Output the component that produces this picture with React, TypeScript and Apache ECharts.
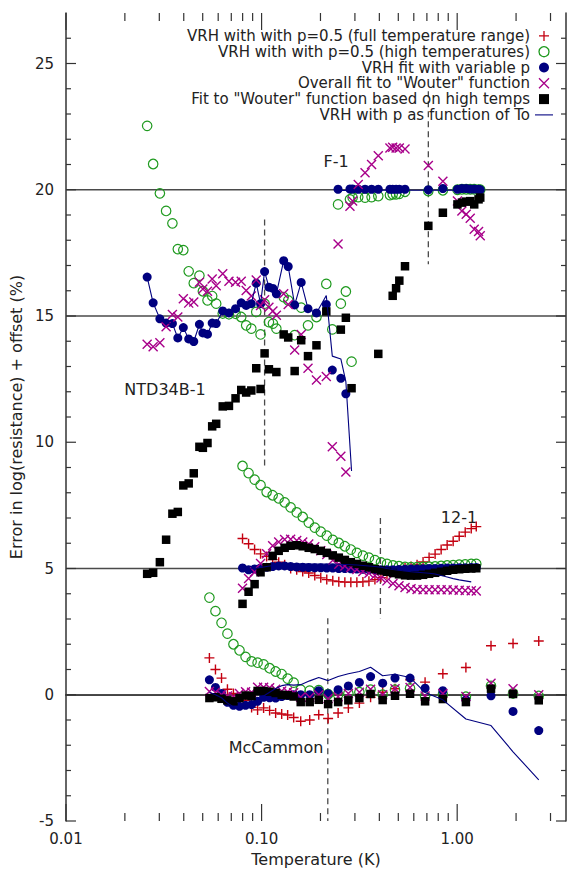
import React, { useEffect, useRef } from "react";
import * as echarts from "echarts";

const NAMES = [
  "VRH with with p=0.5 (full temperature range)",
  "VRH with with p=0.5 (high temperatures)",
  "VRH fit with variable p",
  'Overall fit to "Wouter" function',
  'Fit to "Wouter" function based on high temps',
  "VRH with p as function of To",
];

// ---- NTD34B-1 (offset 15) ----
const ntdT = [0.0260, 0.0279, 0.0302, 0.0325, 0.0350, 0.0373, 0.0398, 0.0424, 0.0450, 0.0481, 0.0501, 0.0529, 0.0559, 0.0586, 0.0633, 0.0681, 0.0736, 0.0787, 0.0834, 0.0886, 0.0939, 0.0988, 0.1036, 0.1090, 0.1143, 0.1190, 0.1297, 0.1368, 0.1476, 0.1594, 0.1727, 0.1908, 0.2142, 0.2299, 0.2542, 0.2697, 0.2884];
const ntdGreen = [22.53, 21.02, 19.86, 19.16, 18.67, 17.65, 17.61, 16.77, 16.30, 16.60, 15.98, 15.62, 15.79, 15.49, 15.10, 15.07, 15.09, 14.96, 14.63, 14.50, 15.16, 14.27, 15.49, 14.76, 14.70, 14.50, 15.75, 15.62, 14.24, 15.33, 14.63, 14.96, 16.27, 14.47, 15.49, 15.97, 13.19];
const ntdNavy = [16.54, 15.52, 14.89, 14.72, 14.70, 14.13, 14.54, 14.09, 13.99, 14.67, 14.33, 14.28, 14.72, 14.70, 15.20, 15.12, 15.29, 15.52, 15.42, 15.49, 16.30, 15.49, 16.76, 16.14, 16.09, 15.88, 17.19, 16.96, 15.44, 16.33, 15.29, 15.12, 15.46, 12.86, 12.53, 11.92, null];
const ntdMagenta = [13.88, 13.78, 13.94, 14.57, 15.06, 14.96, 15.68, 15.51, 15.55, 16.34, 16.07, 15.98, 16.47, 16.20, 16.67, 16.38, 16.34, 16.38, 16.01, 15.79, 16.43, 15.42, 15.64, 15.35, 15.20, 15.03, 15.88, 15.46, 13.65, 14.27, 12.93, 12.47, 12.60, 9.82, 9.45, 8.82, null];
const ntdBlack = [4.79, 4.83, 5.25, 6.14, 7.17, 7.24, 8.29, 8.37, 8.77, 9.82, 9.78, 9.97, 10.63, 10.73, 11.42, 11.44, 11.74, 12.07, 11.97, 12.05, 12.93, 12.11, 13.52, 12.89, null, 12.78, 14.27, 14.15, 12.82, 14.04, 13.41, 13.84, 15.18, null, 14.46, 14.93, 12.14];
const ntdLine = [16.54, 15.52, 14.89, 14.72, 14.70, 14.13, 14.54, 14.09, 13.99, 14.67, 14.33, 14.28, 14.72, 14.70, 15.20, 15.12, 15.29, 15.52, 15.42, 15.49, 16.30, 15.49, 16.76, 16.14, 16.09, 15.88, 17.19, 16.96, 15.44, 16.33, 15.29, 15.12, 15.81, 13.41, 13.30, 12.40, 8.86];

// ---- F-1 (offset 20) ----
const f1T = [0.246, 0.283, 0.292, 0.312, 0.338, 0.365, 0.395, 0.453, 0.468, 0.487, 0.506, 0.541, 0.712, 0.845, 1.003, 1.057, 1.112, 1.166, 1.222, 1.286, 1.312];
const f1Green = [19.42, 19.62, 19.69, 19.71, 19.69, 19.71, 19.75, 19.79, 19.82, 19.82, 19.84, 19.92, 19.95, 19.98, 20.0, 20.02, 20.02, 20.02, 20.02, 20.0, 20.0];
const f1Navy = [20.02, 20.03, 20.03, 20.02, 20.02, 20.02, 20.02, 20.02, 20.02, 20.02, 20.02, 20.02, 20.0, 20.05, 20.02, 20.05, 20.05, 20.03, 20.03, 20.02, 20.0];
const f1Magenta = [17.85, 19.35, 19.55, 20.21, 20.67, 21.0, 21.35, 21.65, 21.68, 21.65, 21.65, 21.61, 20.96, 20.34, 19.55, 19.16, 19.03, 18.87, 18.44, 18.35, 18.18];
const f1Black = [null, null, null, null, null, null, 13.5, null, 15.8, 16.1, 16.40, 16.97, 18.57, 19.09, 19.42, 19.49, 19.53, 19.55, 19.42, 19.62, 19.69];
const f1Line = [19.97, 19.97, 19.97, 19.97, 19.98, 19.98, 19.98, 19.98, 19.98, 19.98, 19.98, 19.98, 19.98, 19.98, 19.98, 19.98, 19.98, 19.98, 19.98, 19.98, 19.98];

// ---- 12-1 (offset 5) ----
const t121 = [0.0799, 0.0858, 0.0921, 0.0988, 0.1061, 0.1139, 0.1223, 0.1312, 0.1408, 0.1512, 0.1623, 0.1742, 0.1870, 0.2007, 0.2154, 0.2312, 0.2482, 0.2665, 0.2860, 0.3070, 0.3296, 0.3538, 0.3797, 0.4076, 0.4375, 0.4696, 0.5041, 0.5412, 0.5808, 0.6235, 0.6692, 0.7184, 0.7711, 0.8279, 0.8886, 0.9539, 1.024, 1.099, 1.180, 1.252];
const r121 = [6.19, 5.98, 5.75, 5.58, 5.48, 5.35, 5.25, 5.15, 5.0, 4.95, 4.88, 4.82, 4.72, 4.63, 4.56, 4.51, 4.48, 4.46, 4.46, 4.46, 4.47, 4.50, 4.56, 4.64, 4.76, 4.86, 4.94, 5.02, 5.08, 5.15, 5.26, 5.44, 5.57, 5.75, 5.93, 6.08, 6.28, 6.44, 6.58, 6.66];
const g121 = [9.06, 8.78, 8.52, 8.30, 8.03, 7.90, 7.78, 7.62, 7.42, 7.22, 7.04, 6.82, 6.62, 6.46, 6.30, 6.13, 6.01, 5.88, 5.75, 5.62, 5.51, 5.43, 5.33, 5.24, 5.18, 5.12, 5.09, 5.06, 5.05, 5.05, 5.06, 5.07, 5.08, 5.10, 5.12, 5.13, 5.15, 5.16, 5.18, 5.18];
const n121 = [5.02, 4.95, 4.98, 5.02, 5.05, 5.08, 5.10, 5.10, 5.08, 5.06, 5.05, 5.04, 5.03, 5.03, 5.02, 5.02, 5.00, 5.00, 4.99, 4.98, 4.97, 4.96, 4.95, 4.95, 4.95, 4.95, 4.96, 4.97, 4.98, 4.98, 4.99, 5.00, 5.00, 5.01, 5.02, 5.02, 5.03, 5.03, 5.04, 5.04];
const m121 = [4.22, 4.60, 4.86, 5.20, 5.58, 5.90, 6.05, 6.15, 6.16, 6.11, 6.05, 5.97, 5.86, 5.70, 5.55, 5.33, 5.17, 5.10, 5.04, 4.96, 4.88, 4.81, 4.72, 4.62, 4.51, 4.41, 4.32, 4.25, 4.20, 4.17, 4.16, 4.16, 4.16, 4.16, 4.16, 4.15, 4.14, 4.13, 4.12, 4.11];
const b121 = [3.60, 4.08, 4.38, 4.85, 5.05, 5.50, 5.70, 5.82, 5.90, 5.92, 5.88, 5.82, 5.77, 5.70, 5.62, 5.52, 5.43, 5.34, 5.25, 5.18, 5.11, 5.05, 4.98, 4.92, 4.87, 4.82, 4.77, 4.73, 4.72, 4.72, 4.75, 4.79, 4.83, 4.87, 4.91, 4.95, 4.97, 4.99, 5.00, 5.01];
const l121 = [4.98, 4.98, 5.00, 5.04, 5.08, 5.12, 5.14, 5.16, 5.17, 5.18, 5.18, 5.18, 5.18, 5.18, 5.18, 5.18, 5.17, 5.16, 5.15, 5.14, 5.12, 5.10, 5.08, 5.05, 5.00, 4.96, 4.93, 4.90, 4.87, 4.85, 4.83, 4.81, 4.78, 4.72, 4.66, 4.60, 4.55, 4.51, 4.47, null];

// ---- McCammon (offset 0) ----
const mcT = [0.0541, 0.0581, 0.0624, 0.0669, 0.0718, 0.0771, 0.0828, 0.0889, 0.0954, 0.1024, 0.1099, 0.1180, 0.1267, 0.1359, 0.1459, 0.1585, 0.1762, 0.1960, 0.2188, 0.2462, 0.2777, 0.3162, 0.3608, 0.4159, 0.4809, 0.5741, 0.6853, 0.8447, 1.108, 1.489, 1.930, 2.612];
const mcRed = [1.46, 1.00, 0.66, 0.22, 0.05, -0.10, -0.22, -0.50, -0.60, -0.52, -0.62, -0.72, -0.76, -0.80, -0.90, -1.05, -1.00, -0.79, -0.94, -0.72, -0.52, -0.33, -0.10, 0.10, 0.24, 0.59, 0.50, 0.83, 1.08, 1.94, 2.03, 2.13];
const mcGreen = [3.85, 3.31, 2.85, 2.42, 2.00, 1.76, 1.50, 1.32, 1.27, 1.20, 1.05, 0.92, 0.82, 0.64, 0.48, 0.20, 0.16, 0.18, 0.02, 0.00, 0.05, 0.10, 0.20, 0.00, 0.20, 0.25, -0.05, 0.00, -0.08, 0.35, 0.05, -0.05];
const mcNavy = [0.59, 0.29, 0.05, -0.30, -0.42, -0.46, -0.42, -0.39, -0.26, -0.10, -0.12, -0.13, -0.07, -0.03, 0.00, 0.00, 0.00, 0.16, 0.04, 0.20, 0.35, 0.49, 0.72, 0.46, 0.66, 0.66, 0.26, 0.16, -0.20, -0.04, -0.66, -1.42];
const mcMagenta = [0.13, 0.10, 0.00, -0.05, -0.08, 0.05, 0.12, 0.10, 0.30, 0.30, 0.28, 0.22, 0.15, 0.12, 0.08, -0.10, -0.10, 0.00, -0.15, -0.08, 0.05, 0.10, 0.22, 0.00, 0.24, 0.29, -0.05, 0.05, -0.07, 0.46, 0.24, 0.00];
const mcBlack = [-0.13, -0.10, -0.16, -0.22, -0.26, -0.13, -0.03, -0.05, 0.15, 0.15, 0.12, 0.07, 0.00, -0.02, -0.07, -0.29, -0.29, -0.20, -0.37, -0.29, -0.22, -0.13, 0.03, -0.21, -0.04, 0.04, -0.26, -0.17, -0.29, 0.24, 0.03, -0.22];
const mcLine = [0.10, 0.00, -0.12, -0.33, -0.48, -0.52, -0.50, -0.40, -0.22, -0.05, 0.10, 0.25, 0.36, 0.40, 0.38, 0.40, 0.55, 0.68, 0.56, 0.72, 0.83, 0.92, 1.09, 0.75, 0.81, 0.68, 0.09, -0.20, -0.96, -1.22, -2.26, -3.37];

// ---- axes / reference lines ----
const X_LABELS: [number, string][] = [[0.01, "0.01"], [0.1, "0.10"], [1, "1.00"]];
const X_MAJOR_TICKS = [0.01, 0.1, 1];
const X_MINOR_TICKS = [0.02, 0.03, 0.04, 0.05, 0.06, 0.07, 0.08, 0.09, 0.2, 0.3, 0.4, 0.5, 0.6, 0.7, 0.8, 0.9, 2, 3];
const Y_MAJOR_TICKS = [-5, 0, 5, 10, 15, 20, 25];
const Y_MINOR_TICKS = [-4, -3, -2, -1, 1, 2, 3, 4, 6, 7, 8, 9, 11, 12, 13, 14, 16, 17, 18, 19, 21, 22, 23, 24, 26];
const REF_LEVELS = [0, 5, 15, 20];
const DASH_T = [0.1036, 0.712, 0.405, 0.218];
const DASH_TOP = [18.82, 23.9, 7.0, 3.03];
const DASH_BOTTOM = [9.06, 17.05, 3.03, -5];
const SAMPLE_LABELS = ["F-1", "NTD34B-1", "12-1", "McCammon"];

const FONT = "DejaVu Sans";
const RED = "#c40010";
const GREEN = "#1f9a1f";
const NAVY = "#00007f";
const MAGENTA = "#a8008a";
const BLACK = "#000000";
const AXIS = "#333333";
const REF = "#4a4a4a";

const pts = (t: number[], v: (number | null)[]) =>
  t.flatMap((x, i) => (v[i] == null ? [] : [[x, v[i] as number]]));

const PLUS = "path://M0,5L10,5M5,0L5,10";
const CROSS = "path://M0,0L10,10M10,0L0,10";
const SQUARE = "path://M0,0L10,0L10,10L0,10Z";
const LINE_ICON = "path://M0,0L20,0L20,1.2L0,1.2Z";

function buildOption(): any {
  const redData = [...pts(t121, r121), ...pts(mcT, mcRed)];
  const greenData = [...pts(ntdT, ntdGreen), ...pts(f1T, f1Green), ...pts(t121, g121), ...pts(mcT, mcGreen)];
  const navyData = [...pts(ntdT, ntdNavy), ...pts(f1T, f1Navy), ...pts(t121, n121), ...pts(mcT, mcNavy)];
  const magentaData = [...pts(ntdT, ntdMagenta), ...pts(f1T, f1Magenta), ...pts(t121, m121), ...pts(mcT, mcMagenta)];
  const blackData = [...pts(ntdT, ntdBlack), ...pts(f1T, f1Black), ...pts(t121, b121), ...pts(mcT, mcBlack)];
  const lineSets = [pts(ntdT, ntdLine), pts(f1T, f1Line), pts(t121, l121), pts(mcT, mcLine)];

  const tickStyle = { stroke: AXIS, lineWidth: 1.2 };

  const series: any[] = [
    {
      type: "custom",
      name: "refLevels",
      silent: true,
      z: 1,
      data: REF_LEVELS.map((v) => [1, v]),
      renderItem: (params: any, api: any) => {
        const cs = params.coordSys;
        const y = api.coord([1, api.value(1)])[1];
        return {
          type: "line",
          shape: { x1: cs.x, y1: y, x2: cs.x + cs.width, y2: y },
          style: { stroke: REF, lineWidth: 1.6 },
        };
      },
    },
    {
      type: "custom",
      name: "dashRefs",
      silent: true,
      z: 1,
      data: DASH_T.map((t, i) => [t, DASH_TOP[i], DASH_BOTTOM[i]]),
      renderItem: (params: any, api: any) => {
        const p1 = api.coord([api.value(0), api.value(1)]);
        const p2 = api.coord([api.value(0), api.value(2)]);
        return {
          type: "line",
          shape: { x1: p1[0], y1: p1[1], x2: p2[0], y2: p2[1] },
          style: { stroke: REF, lineWidth: 1.3, lineDash: [6, 4] },
        };
      },
    },
    {
      type: "custom",
      name: "xTicks",
      silent: true,
      z: 6,
      data: [...X_MAJOR_TICKS.map((t) => [t, 1]), ...X_MINOR_TICKS.map((t) => [t, 0])],
      renderItem: (params: any, api: any) => {
        const cs = params.coordSys;
        const x = api.coord([api.value(0), 0])[0];
        const len = api.value(1) ? 17 : 8;
        const top = cs.y;
        const bottom = cs.y + cs.height;
        return {
          type: "group",
          children: [
            { type: "line", shape: { x1: x, y1: bottom, x2: x, y2: bottom - len }, style: tickStyle },
            { type: "line", shape: { x1: x, y1: top, x2: x, y2: top + len }, style: tickStyle },
          ],
        };
      },
    },
    {
      type: "custom",
      name: "yTicks",
      silent: true,
      z: 6,
      data: [...Y_MAJOR_TICKS.map((v) => [1, v, 1]), ...Y_MINOR_TICKS.map((v) => [1, v, 0])],
      renderItem: (params: any, api: any) => {
        const cs = params.coordSys;
        const y = api.coord([1, api.value(1)])[1];
        const len = api.value(2) ? 10 : 5;
        const left = cs.x;
        const right = cs.x + cs.width;
        return {
          type: "group",
          children: [
            { type: "line", shape: { x1: left, y1: y, x2: left + len, y2: y }, style: tickStyle },
            { type: "line", shape: { x1: right, y1: y, x2: right - len, y2: y }, style: tickStyle },
          ],
        };
      },
    },
    {
      type: "scatter",
      name: NAMES[0],
      data: redData,
      symbol: PLUS,
      symbolSize: 10,
      silent: true,
      z: 3,
      itemStyle: { color: RED, borderColor: RED, borderWidth: 1.4, opacity: 1 },
    },
    {
      type: "scatter",
      name: NAMES[1],
      data: greenData,
      symbol: "circle",
      symbolSize: 9.5,
      silent: true,
      z: 3,
      itemStyle: { color: "rgba(0,0,0,0)", borderColor: GREEN, borderWidth: 1.2, opacity: 1 },
    },
    {
      type: "scatter",
      name: NAMES[2],
      data: navyData,
      symbol: "circle",
      symbolSize: 9,
      silent: true,
      z: 3,
      itemStyle: { color: NAVY, opacity: 1 },
    },
    {
      type: "scatter",
      name: NAMES[3],
      data: magentaData,
      symbol: CROSS,
      symbolSize: 9,
      silent: true,
      z: 3,
      itemStyle: { color: MAGENTA, borderColor: MAGENTA, borderWidth: 1.4, opacity: 1 },
    },
    {
      type: "scatter",
      name: NAMES[4],
      data: blackData,
      symbol: "rect",
      symbolSize: 8.5,
      silent: true,
      z: 3,
      itemStyle: { color: BLACK, opacity: 1 },
    },
    ...lineSets.map((d) => ({
      type: "line",
      name: NAMES[5],
      data: d,
      symbol: "none",
      showSymbol: false,
      silent: true,
      z: 4,
      lineStyle: { color: NAVY, width: 1.1 },
      itemStyle: { color: NAVY },
    })),
  ];

  const labelPos = [
    { x: 336, y: 161 },
    { x: 165, y: 389 },
    { x: 459, y: 517 },
    { x: 276, y: 747 },
  ];

  return {
    animation: false,
    backgroundColor: "#ffffff",
    textStyle: { fontFamily: FONT },
    grid: { left: 65, right: 4, top: 13, bottom: 44, containLabel: false },
    legend: {
      data: [
        NAMES[0],
        NAMES[1],
        NAMES[2],
        NAMES[3],
        { name: NAMES[4], icon: SQUARE, itemStyle: { borderWidth: 0 } },
        { name: NAMES[5], icon: LINE_ICON, itemStyle: { color: NAVY, borderWidth: 0 } },
      ],
      orient: "vertical",
      align: "right",
      right: 12,
      top: 23,
      itemWidth: 18,
      itemHeight: 10,
      itemGap: 0,
      selectedMode: false,
      textStyle: { fontSize: 15, color: "#222", fontFamily: FONT, lineHeight: 15.8 },
      itemStyle: { borderWidth: 1.3 },
    },
    xAxis: [
      {
        type: "log",
        logBase: 10,
        min: 0.01,
        max: 3.6,
        position: "bottom",
        axisLine: { show: true, lineStyle: { color: AXIS, width: 1.5 } },
        axisTick: { show: false },
        splitLine: { show: false },
        axisLabel: {
          margin: 10,
          fontSize: 15,
          color: "#222",
          fontFamily: FONT,
          formatter: (v: number) => {
            const f = X_LABELS.find(([t]) => Math.abs(Math.log10(v) - Math.log10(t)) < 1e-6);
            return f ? f[1] : "";
          },
        },
        name: "Temperature (K)",
        nameLocation: "middle",
        nameGap: 30,
        nameTextStyle: { fontSize: 16, color: "#222", fontFamily: FONT },
      },
      {
        type: "log",
        logBase: 10,
        min: 0.01,
        max: 3.6,
        position: "top",
        axisLine: { show: true, lineStyle: { color: AXIS, width: 1.5 } },
        axisTick: { show: false },
        splitLine: { show: false },
        axisLabel: { show: false },
      },
    ],
    yAxis: [
      {
        type: "value",
        min: -5,
        max: 27,
        interval: 5,
        position: "left",
        axisLine: { show: true, lineStyle: { color: AXIS, width: 1.5 } },
        axisTick: { show: false },
        splitLine: { show: false },
        axisLabel: {
          margin: 12,
          fontSize: 15,
          color: "#222",
          fontFamily: FONT,
          formatter: (v: number) => (Math.abs(v % 5) < 1e-9 ? String(v) : ""),
        },
        name: "Error in log(resistance) + offset (%)",
        nameLocation: "middle",
        nameGap: 37,
        nameRotate: 90,
        nameTextStyle: { fontSize: 16, color: "#222", fontFamily: FONT },
      },
      {
        type: "value",
        min: -5,
        max: 27,
        interval: 5,
        position: "right",
        axisLine: { show: true, lineStyle: { color: AXIS, width: 1.5 } },
        axisTick: { show: false },
        splitLine: { show: false },
        axisLabel: { show: false },
      },
    ],
    graphic: SAMPLE_LABELS.map((text, i) => ({
      type: "text",
      x: labelPos[i].x,
      y: labelPos[i].y,
      silent: true,
      style: {
        text,
        fill: "#222",
        font: `16px "${FONT}"`,
        align: "center",
        verticalAlign: "middle",
        textAlign: "center",
        textVerticalAlign: "middle",
      },
    })),
    series,
  };
}

export default function App() {
  const ref = useRef<HTMLDivElement>(null);
  useEffect(() => {
    if (!ref.current) return;
    const chart = echarts.init(ref.current, null, { renderer: "svg" });
    chart.setOption(buildOption());
    return () => chart.dispose();
  }, []);
  return (
    <div
      ref={ref}
      style={{ position: "absolute", left: 0, top: 0, width: 570, height: 872 }}
    />
  );
}
